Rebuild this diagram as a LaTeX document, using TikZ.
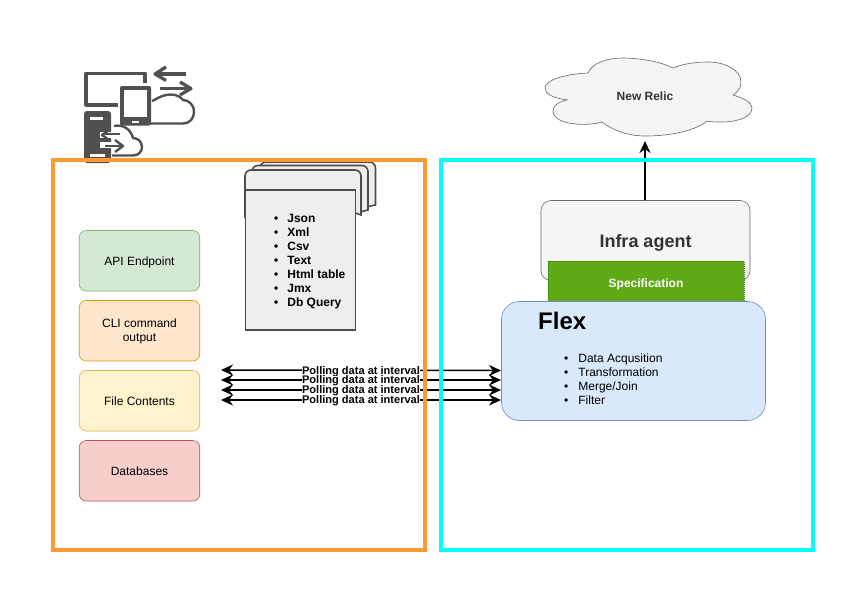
\documentclass[tikz,border=0pt]{standalone}
\usepackage{fontspec}
\setmainfont{Liberation Sans}
\usetikzlibrary{arrows.meta}
\definecolor{frameO}{HTML}{FF9933}
\definecolor{frameC}{HTML}{00FFFF}
\definecolor{icong}{HTML}{505050}
\definecolor{docg}{HTML}{4D4D4D}
\definecolor{docf}{HTML}{EEEEEE}
\tikzset{
  srcbox/.style={draw, rounded corners=7pt, minimum width=120.5pt, minimum height=60.5pt, line width=.6pt, align=center, font=\fontsize{12}{14}\selectfont},
  frm/.style={draw, line width=3.6pt},
  arr/.style={line width=1.5pt, {Stealth[length=12pt,width=11pt]}-{Stealth[length=12pt,width=11pt]}},
  pollabel/.style={fill=white, inner xsep=.5pt, inner ysep=0pt, yshift=-1pt, font=\bfseries\fontsize{11.05}{12}\selectfont},
  iconline/.style={draw=icong, line width=3.2pt, line join=round},
  iconthin/.style={draw=icong, line width=2.4pt, line join=round},
  halo/.style={draw=white, line width=6pt},
  docpage/.style={draw=docg, line width=1.6pt, fill=docf},
}
\begin{document}
\begin{tikzpicture}[x=1pt,y=-1pt]
\useasboundingbox[fill=white] (0,0) rectangle (864,603);
% icon: big cloud, monitor, tablet
\draw[iconthin] (150,123.5) -- (183,123.5) .. controls (190,123.5) and (194,118) .. (194,112)
  .. controls (194,104) and (188,100) .. (183,100)
  .. controls (178,94) and (172,94) .. (166,95)
  .. controls (160,96) and (155,100) .. (152,101);
\draw[iconline] (118,105) -- (86,105) -- (86,73.5) -- (145,73.5) -- (145,83);
\fill[icong, rounded corners=2pt] (120,86) rectangle (151,125.5);
\fill[white] (124,89.5) rectangle (147,117);
\fill[white] (132,120.5) rectangle (139,122.5);
\draw[iconline] (186,74) -- (157,74);
\draw[iconline] (166,67) -- (155,74) -- (166,80.5);
\draw[iconline] (160,88.5) -- (189,88.5);
\draw[iconline] (180,82) -- (191,88.5) -- (180,95);
% icon: server, small cloud, small arrows
\fill[icong, rounded corners=3pt] (84,111) rectangle (111,163);
\fill[white] (90,117) rectangle (103,119.5);
\fill[white] (90,154) rectangle (105,156.5);
\draw[iconthin] (112,155.5) -- (133,155.5) .. controls (139,155.5) and (142,151) .. (142,147)
  .. controls (142,141) and (137,138) .. (133,138)
  .. controls (131,130) and (124,124) .. (114,126);
\draw[halo] (100,135) -- (120,135);
\draw[halo] (100,145) -- (124,145);
\draw[iconthin] (120,134) -- (104,134);
\draw[iconthin] (110,129.5) -- (102,135) -- (110,140.5);
\draw[iconthin] (105,146) -- (121,146);
\draw[iconthin] (115,140) -- (123,146) -- (115,152);
% source boxes
\node[srcbox, fill={rgb,255:red,213;green,232;blue,212}, draw={rgb,255:red,130;green,179;blue,102}] (api) at (139.5,260.75) {\raisebox{-4.5pt}[0pt][0pt]{API Endpoint}};
\node[srcbox, fill={rgb,255:red,255;green,230;blue,204}, draw={rgb,255:red,215;green,155;blue,0}] (cli) at (139.5,330.75) {\raisebox{3.5pt}[0pt][0pt]{\begin{tabular}[t]{@{}c@{}}CLI command\\output\end{tabular}}};
\node[srcbox, fill={rgb,255:red,255;green,242;blue,204}, draw={rgb,255:red,214;green,182;blue,86}] (file) at (139.5,400.75) {\raisebox{-4.5pt}[0pt][0pt]{File Contents}};
\node[srcbox, fill={rgb,255:red,248;green,206;blue,204}, draw={rgb,255:red,184;green,84;blue,80}] (db) at (139.5,470.75) {\raisebox{-4.5pt}[0pt][0pt]{Databases}};
% doc stack
\draw[docpage] (260,205) -- (260,172) [rounded corners=6pt] -- (260,162) -- (375.5,162) [sharp corners] -- (375.5,205) -- (366,207) -- cycle;
\draw[docpage] (252,210) -- (252,175) [rounded corners=6pt] -- (252,165.5) -- (368,165.5) [sharp corners] -- (368,210) -- (360,212) -- cycle;
\draw[docpage] (245,215) -- (245,178) [rounded corners=6pt] -- (245,170) -- (361,170) [sharp corners] -- (361,215) -- (355.5,213) -- (246,213) -- cycle;
\draw[docpage] (245.5,190) rectangle (355.5,330);
\node[font=\bfseries\fontsize{12}{13.9}\selectfont, align=left, anchor=west, inner sep=0] (types) at (274,261.5)
 {\textbullet\hspace{9pt}Json\\\textbullet\hspace{9pt}Xml\\\textbullet\hspace{9pt}Csv\\\textbullet\hspace{9pt}Text\\\textbullet\hspace{9pt}Html table\\\textbullet\hspace{9pt}Jmx\\\textbullet\hspace{9pt}Db Query};
% infra
\node[draw={rgb,255:red,102;green,102;blue,102}, fill={rgb,255:red,245;green,245;blue,245}, rounded corners=10pt, minimum width=209pt, minimum height=80pt, line width=.6pt, text=black!80, font=\bfseries\fontsize{18}{20}\selectfont] (agent) at (645.5,240.5) {\raisebox{-7pt}[0pt][0pt]{Infra agent}};
\node[draw={rgb,255:red,45;green,125;blue,9}, fill={rgb,255:red,96;green,169;blue,23}, densely dotted, line width=1pt, minimum width=196pt, minimum height=44pt, text=white, font=\bfseries\fontsize{12}{14}\selectfont] (spec) at (646,283) {\raisebox{-4.3pt}[0pt][0pt]{Specification}};
% flex
\node[draw={rgb,255:red,108;green,142;blue,191}, fill={rgb,255:red,218;green,232;blue,252}, rounded corners=18pt, minimum width=264pt, minimum height=119pt, line width=.6pt] (flex) at (633.5,361) {};
\node[font=\bfseries\fontsize{24}{26}\selectfont, anchor=west, inner sep=0pt] (flextitle) at (538,321) {Flex};
\node[font=\fontsize{12}{13.9}\selectfont, align=left, anchor=west, inner sep=0pt] (flexlist) at (564,379)
 {\textbullet\hspace{10pt}Data Acqusition\\\textbullet\hspace{10pt}Transformation\\\textbullet\hspace{10pt}Merge/Join\\\textbullet\hspace{10pt}Filter};
% cloud
\filldraw[draw={rgb,255:red,102;green,102;blue,102}, fill={rgb,255:red,245;green,245;blue,245}, line width=.6pt]
 (588,73) .. controls (592,62) and (610,58) .. (622,58)
 .. controls (640,58) and (662,62) .. (673,68)
 .. controls (682,64) and (695,62) .. (708,62)
 .. controls (725,62) and (741,70) .. (741,82)
 .. controls (741,88) and (738,92) .. (733,95)
 .. controls (743,98) and (752,102) .. (752,108)
 .. controls (752,118) and (735,122) .. (722,122)
 .. controls (716,122) and (711,122) .. (707,121)
 .. controls (695,131) and (670,136) .. (645,136)
 .. controls (628,136) and (612,130) .. (602,122)
 .. controls (595,124) and (585,125) .. (576,124)
 .. controls (562,123) and (553,118) .. (553,111)
 .. controls (553,106) and (558,102) .. (567,100)
 .. controls (553,98) and (545,94) .. (545,88)
 .. controls (545,80) and (565,74) .. (588,73) -- cycle;
\node[text=black!80, font=\bfseries\fontsize{12}{13}\selectfont] (relic) at (645,96) {New Relic};
\coordinate (relictip) at (645,141);
\draw[line width=1.5pt, -{Stealth[length=12pt,width=11pt]}] (agent.north -| relictip) -- (relictip);
% polling
\coordinate (l1) at (221,370); \coordinate (r1) at (501,370.5);
\coordinate (l2) at (221,380); \coordinate (r2) at (501,380);
\coordinate (l3) at (221,390); \coordinate (r3) at (501,390);
\coordinate (l4) at (221,400); \coordinate (r4) at (501,400);
\draw[arr] (l1) -- node[pollabel] (p1) {Polling data at interval} (r1);
\draw[arr] (l2) -- node[pollabel] (p2) {Polling data at interval} (r2);
\draw[arr] (l3) -- node[pollabel] (p3) {Polling data at interval} (r3);
\draw[arr] (l4) -- node[pollabel] (p4) {Polling data at interval} (r4);
% frames
\draw[frm, draw=frameO] (53,160) rectangle (425,550);
\draw[frm, draw=frameC] (441,160) rectangle (813,550);
\end{tikzpicture}
\end{document}
